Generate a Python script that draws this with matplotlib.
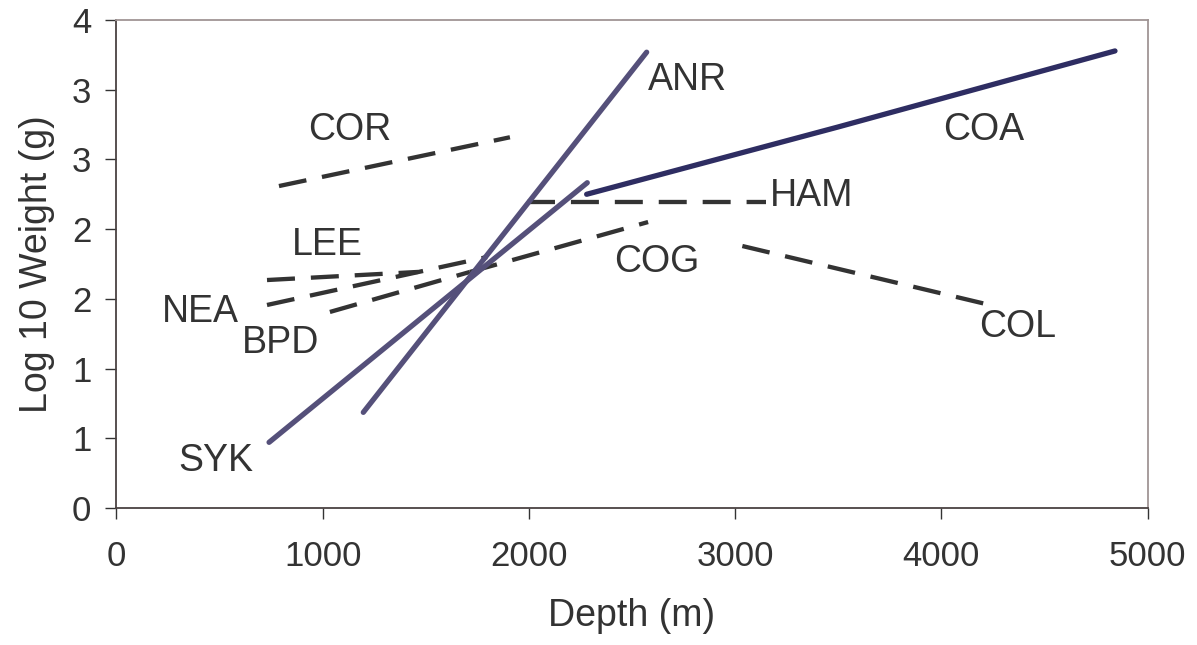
import matplotlib
matplotlib.use('Agg')
import matplotlib.pyplot as plt

plt.rcParams['font.family'] = ['Liberation Sans', 'DejaVu Sans']

# line series: depth (m) and log10 weight (g) at each end
cor_x = [788, 1908]
cor_y = [2.309, 2.659]
lee_x = [730, 1462]
lee_y = [1.635, 1.693]
nea_x = [730, 1797]
nea_y = [1.456, 1.800]
bpd_x = [1035, 1714]
bpd_y = [1.406, 1.693]
cog_x = [1714, 2578]
cog_y = [1.693, 2.051]
ham_x = [1991, 3150]
ham_y = [2.195, 2.195]
col_x = [3035, 4236]
col_y = [1.879, 1.456]
syk_x = [740, 2283]
syk_y = [0.471, 2.333]
anr_x = [1197, 2571]
anr_y = [0.686, 3.269]
coa_x = [2280, 3500, 4842]
coa_y = [2.250, 2.733, 3.278]

labels = ['COR', 'ANR', 'COA', 'HAM', 'LEE', 'COG', 'NEA', 'BPD', 'COL', 'SYK']
label_x = [1132, 2767, 4207, 3373, 1021, 2621, 405, 798, 4372, 483]
label_y = [2.711, 3.070, 2.711, 2.238, 1.886, 1.764, 1.406, 1.183, 1.298, 0.337]

y_ticks = [0, 0.5, 1, 1.5, 2, 2.5, 3, 3.5]
y_tick_labels = ['0', '1', '1', '2', '2', '3', '3', '4']
x_ticks = [0, 1000, 2000, 3000, 4000, 5000]

fig = plt.figure(figsize=(11.97, 6.45), dpi=100)
ax = fig.add_axes([0.0973, 0.2124, 0.8614, 0.7566])

dash_col = '#333333'
dash = (6.5, 3.7)
for xs, ys in [(cor_x, cor_y), (lee_x, lee_y), (nea_x, nea_y), (bpd_x, bpd_y),
               (cog_x, cog_y), (ham_x, ham_y), (col_x, col_y)]:
    ax.plot(xs, ys, color=dash_col, lw=3.1, linestyle=(0, dash), dash_capstyle='butt')

ax.plot(syk_x, syk_y, color='#55507a', lw=3.8, solid_capstyle='round')
ax.plot(anr_x, anr_y, color='#55507a', lw=3.8, solid_capstyle='round')
ax.plot(coa_x, coa_y, color='#2e2d62', lw=3.8, solid_capstyle='round')

for t, x, y in zip(labels, label_x, label_y):
    ax.text(x, y, t, fontsize=27, color='#333333', ha='center', va='center')

ax.set_xlim(0, 5000)
ax.set_ylim(0, 3.5)
ax.set_xticks(x_ticks)
ax.set_xticklabels([str(v) for v in x_ticks])
ax.set_yticks(y_ticks)
ax.set_yticklabels(y_tick_labels)
ax.tick_params(axis='x', direction='out', length=8, width=1, colors='#333333',
               labelsize=25, pad=15)
ax.tick_params(axis='y', direction='out', length=8, width=1, colors='#333333',
               labelsize=25, pad=10)

for s in ['left', 'bottom']:
    ax.spines[s].set_color('#4a4242')
    ax.spines[s].set_linewidth(1.3)
for s in ['top', 'right']:
    ax.spines[s].set_color('#a09595')
    ax.spines[s].set_linewidth(1.3)

ax.set_xlabel('Depth (m)', fontsize=27, color='#333333', labelpad=18)
ax.set_ylabel('Log 10 Weight (g)', fontsize=27, color='#333333', labelpad=12)

fig.savefig('out.png', dpi=100)
